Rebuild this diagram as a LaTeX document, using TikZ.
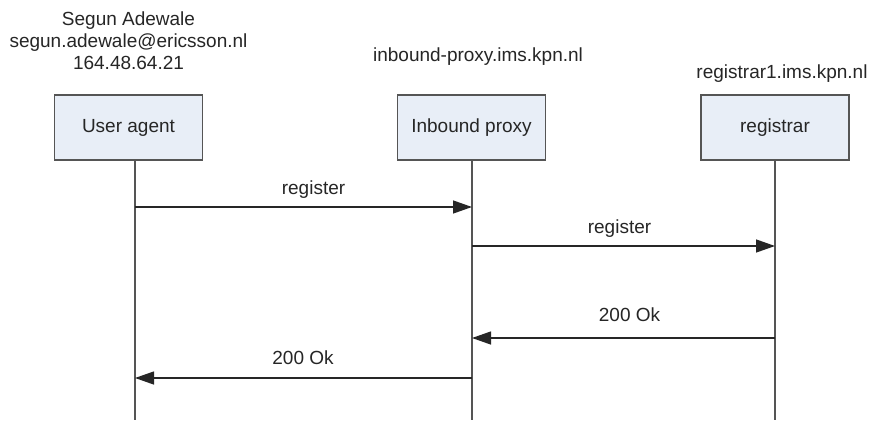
\documentclass[tikz,border=0pt]{standalone}
\usepackage{fontspec}
\setmainfont{Liberation Sans}
\usetikzlibrary{arrows.meta}
\definecolor{boxfill}{HTML}{E8EEF7}
\definecolor{boxedge}{HTML}{555555}
\definecolor{lifeline}{HTML}{555555}
\definecolor{msgline}{HTML}{262626}
\tikzset{
  actor/.style={draw=boxedge, line width=1.2pt, fill=boxfill,
    minimum width=148pt, minimum height=65pt, inner sep=0pt,
    font=\fontsize{19}{22}\selectfont, text=black!85},
  caption/.style={align=center, inner sep=0pt,
    font=\fontsize{19}{22}\selectfont, text=black!85},
  life/.style={draw=lifeline, line width=1.3pt},
  msg/.style={draw=msgline, line width=1.3pt,
    -{Triangle[length=19pt,width=13pt]}},
  msglabel/.style={inner sep=0pt, font=\fontsize{19}{22}\selectfont, text=black!85}
}
\begin{document}
\begin{tikzpicture}[x=1pt,y=-1pt]
  \useasboundingbox[fill=white] (0,0) rectangle (869,420);

  % participants
  \node[actor] (ua)  at (128.5,127.5) {User agent};
  \node[actor] (ibp) at (471.5,127.5) {Inbound proxy};
  \node[actor] (reg) at (775,127.5) {registrar};

  % participant captions
  \node[caption] (uacap)  at (128.5,41) {Segun Adewale\\segun.adewale@ericsson.nl\\164.48.64.21};
  \node[caption] (ibpcap) at (478,57) {inbound-proxy.ims.kpn.nl};
  \node[caption] (regcap) at (782,74) {registrar1.ims.kpn.nl};

  % lifelines
  \coordinate (uatop)  at (135,160);
  \coordinate (ibptop) at (472,160);
  \coordinate (regtop) at (775,160);
  \coordinate (uabot)  at (135,420);
  \coordinate (ibpbot) at (472,420);
  \coordinate (regbot) at (775,420);
  \draw[life] (uatop) -- (uabot);
  \draw[life] (ibptop) -- (ibpbot);
  \draw[life] (regtop) -- (regbot);

  % message anchor points on the lifelines
  \coordinate (m1a) at (135,207);
  \coordinate (m1b) at (472,207);
  \coordinate (m2a) at (472,246);
  \coordinate (m2b) at (775,246);
  \coordinate (m3a) at (775,338);
  \coordinate (m3b) at (472,338);
  \coordinate (m4a) at (472,378);
  \coordinate (m4b) at (135,378);

  % messages
  \draw[msg] (m1a) -- (m1b);
  \draw[msg] (m2a) -- (m2b);
  \draw[msg] (m3a) -- (m3b);
  \draw[msg] (m4a) -- (m4b);

  \node[msglabel] (l1) at (313.5,190) {register};
  \node[msglabel] (l2) at (619.5,229) {register};
  \node[msglabel] (l3) at (629.5,315) {200 Ok};
  \node[msglabel] (l4) at (303,358) {200 Ok};
\end{tikzpicture}
\end{document}
